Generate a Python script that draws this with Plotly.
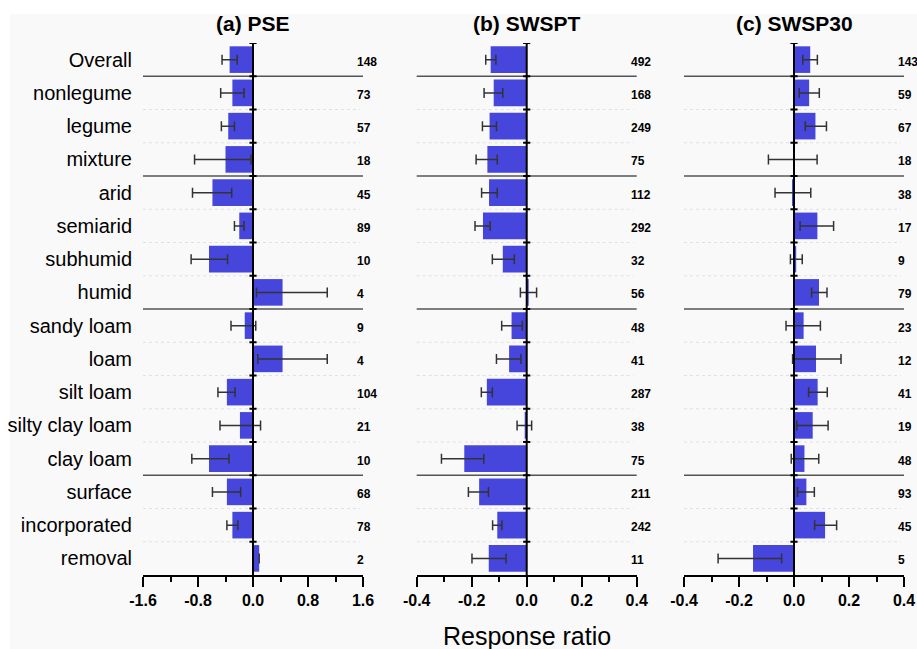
import plotly.graph_objects as go

categories = ["Overall", "nonlegume", "legume", "mixture", "arid", "semiarid",
              "subhumid", "humid", "sandy loam", "loam", "silt loam",
              "silty clay loam", "clay loam", "surface", "incorporated", "removal"]
group_starts = [1, 4, 8, 13]  # first category of each new group

panel_titles = ["(a) PSE", "(b) SWSPT", "(c) SWSP30"]

pse_mean = [-0.34, -0.30, -0.36, -0.40, -0.59, -0.20, -0.64, 0.43, -0.12, 0.43,
            -0.38, -0.19, -0.64, -0.38, -0.30, 0.09]
pse_low = [-0.45, -0.47, -0.46, -0.85, -0.88, -0.27, -0.90, 0.05, -0.32, 0.07,
           -0.51, -0.48, -0.89, -0.59, -0.38, None]
pse_high = [-0.23, -0.13, -0.27, -0.03, -0.31, -0.13, -0.37, 1.08, 0.04, 1.08,
            -0.26, 0.11, -0.35, -0.18, -0.22, None]
pse_n = [148, 73, 57, 18, 45, 89, 10, 4, 9, 4, 104, 21, 10, 68, 78, 2]

swspt_mean = [-0.131, -0.120, -0.135, -0.143, -0.137, -0.159, -0.087, 0.004, -0.055,
              -0.064, -0.145, -0.006, -0.227, -0.173, -0.107, -0.138]
swspt_low = [-0.149, -0.155, -0.161, -0.184, -0.164, -0.188, -0.125, -0.023, -0.091,
             -0.110, -0.165, -0.035, -0.310, -0.212, -0.124, -0.199]
swspt_high = [-0.112, -0.087, -0.110, -0.107, -0.107, -0.133, -0.045, 0.036, -0.016,
              -0.021, -0.125, 0.018, -0.156, -0.139, -0.090, -0.075]
swspt_n = [492, 168, 249, 75, 112, 292, 32, 56, 48, 41, 287, 38, 75, 211, 242, 11]

swsp30_mean = [0.059, 0.055, 0.078, 0.000, -0.005, 0.085, 0.008, 0.091, 0.035, 0.080,
               0.086, 0.068, 0.038, 0.045, 0.113, -0.149]
swsp30_low = [0.032, 0.019, 0.041, -0.093, -0.069, 0.022, -0.013, 0.064, -0.029, -0.005,
              0.053, 0.010, -0.010, 0.013, 0.075, -0.276]
swsp30_high = [0.085, 0.092, 0.118, 0.084, 0.061, 0.144, 0.030, 0.120, 0.096, 0.171,
               0.121, 0.124, 0.090, 0.074, 0.155, -0.045]
swsp30_n = [143, 59, 67, 18, 38, 17, 9, 79, 23, 12, 41, 19, 48, 93, 45, 5]

x_ranges = [[-1.6, 1.6], [-0.4, 0.4], [-0.4, 0.4]]
major_ticks = [[-1.6, -0.8, 0.0, 0.8, 1.6], [-0.4, -0.2, 0.0, 0.2, 0.4], [-0.4, -0.2, 0.0, 0.2, 0.4]]
minor_dticks = [0.4, 0.1, 0.1]

panels = [
    (pse_mean, pse_low, pse_high, pse_n),
    (swspt_mean, swspt_low, swspt_high, swspt_n),
    (swsp30_mean, swsp30_low, swsp30_high, swsp30_n),
]

FONT = "Arial, Liberation Sans, sans-serif"
BAR = "#4646dc"
W, H = 917, 649
ML, MR, MT, MB = 143, 13, 43, 74
plot_w = W - ML - MR
plot_h = H - MT - MB
domains = [[0.0, 220 / plot_w], [(416.7 - ML) / plot_w, (636.7 - ML) / plot_w],
           [(684 - ML) / plot_w, 1.0]]

ypos = list(range(len(categories)))

fig = go.Figure()
shapes = []
annotations = []

# gray panel background
shapes.append(dict(type="rect", xref="paper", yref="paper",
                   x0=(10 - ML) / plot_w, x1=(W - ML) / plot_w + 0.01,
                   y0=-(MB + 5) / plot_h, y1=(H - MB - 14) / plot_h,
                   fillcolor="#f9f9f9", line=dict(width=0), layer="below"))

for k, (mean, low, high, n) in enumerate(panels):
    sfx = "" if k == 0 else str(k + 1)
    xa, ya = "x" + sfx, "y" + sfx
    plus = [None if h is None else h - m for m, h in zip(mean, high)]
    minus = [None if l is None else m - l for m, l in zip(mean, low)]
    fig.add_trace(go.Bar(
        x=mean, y=ypos, orientation="h", width=0.8,
        marker=dict(color=BAR, line=dict(width=0)),
        error_x=dict(type="data", symmetric=False, array=plus, arrayminus=minus,
                     color="#333333", thickness=1.5, width=5),
        xaxis=xa, yaxis=ya, showlegend=False, hoverinfo="x+y"))

    # separators between rows
    for b in range(1, len(categories)):
        if b in group_starts:
            shapes.append(dict(type="line", xref=xa + " domain", yref=ya,
                               x0=0, x1=1, y0=b - 0.5, y1=b - 0.5,
                               line=dict(color="#555555", width=1.3), layer="below"))
        else:
            shapes.append(dict(type="line", xref=xa + " domain", yref=ya,
                               x0=0, x1=0.985, y0=b - 0.5, y1=b - 0.5,
                               line=dict(color="#e0e0e0", width=1, dash="dot"), layer="below"))
    # zero line
    shapes.append(dict(type="line", xref=xa, yref=ya + " domain", x0=0, x1=0, y0=0, y1=1,
                       line=dict(color="black", width=2), layer="above"))
    # small tick marks on zero line at row boundaries
    span = x_ranges[k][1] - x_ranges[k][0]
    d = 3.6 * span / 220
    for b in range(0, len(categories)):
        shapes.append(dict(type="line", xref=xa, yref=ya, x0=-d, x1=d,
                           y0=b - 0.5, y1=b - 0.5,
                           line=dict(color="black", width=2), layer="above"))
    # counts
    for i, cnt in enumerate(n):
        annotations.append(dict(xref=xa + " domain", yref=ya, x=0.965, y=i,
                                xanchor="left", yanchor="middle", yshift=-2,
                                text=f"<b>{cnt}</b>", showarrow=False,
                                font=dict(family=FONT, size=12, color="black")))
    # title
    annotations.append(dict(xref=xa + " domain", yref="paper", x=0.5,
                            y=(H - MB - 24) / plot_h, xanchor="center", yanchor="middle",
                            text=f"<b>{panel_titles[k]}</b>", showarrow=False,
                            font=dict(family=FONT, size=21, color="black")))

    fig.update_layout({
        "xaxis" + sfx: dict(
            domain=domains[k], range=x_ranges[k], anchor=ya, automargin=False,
            tickmode="array", tickvals=major_ticks[k],
            ticktext=[f"{v:.1f}" for v in major_ticks[k]],
            ticks="outside", ticklen=10, tickwidth=2, tickcolor="black",
            showline=True, linecolor="black", linewidth=2,
            showgrid=False, zeroline=False,
            tickfont=dict(family=FONT, size=16, color="black", weight="bold"),
            minor=dict(tickmode="linear", tick0=x_ranges[k][0], dtick=minor_dticks[k],
                       ticks="outside", ticklen=5, tickwidth=2, tickcolor="black",
                       showgrid=False),
        ),
        "yaxis" + sfx: dict(
            domain=[0, 1], range=[len(categories) - 0.5, -0.5], anchor=xa, automargin=False,
            tickmode="array", tickvals=ypos, ticktext=categories,
            showticklabels=(k == 0), ticks="", showline=False,
            showgrid=False, zeroline=False, ticklabelstandoff=10,
            tickfont=dict(family=FONT, size=20, color="black"),
        ),
    })

annotations.append(dict(xref="x2 domain", yref="paper", x=0.5,
                        y=-(636 - (H - MB)) / plot_h, xanchor="center", yanchor="middle",
                        text="Response ratio", showarrow=False,
                        font=dict(family=FONT, size=25, color="black")))

fig.update_layout(
    width=W, height=H, margin=dict(l=ML, r=MR, t=MT, b=MB, autoexpand=False),
    paper_bgcolor="white", plot_bgcolor="rgba(0,0,0,0)",
    shapes=shapes, annotations=annotations, bargap=0.2,
    font=dict(family=FONT, color="black"),
)

fig.write_html("out.html")
